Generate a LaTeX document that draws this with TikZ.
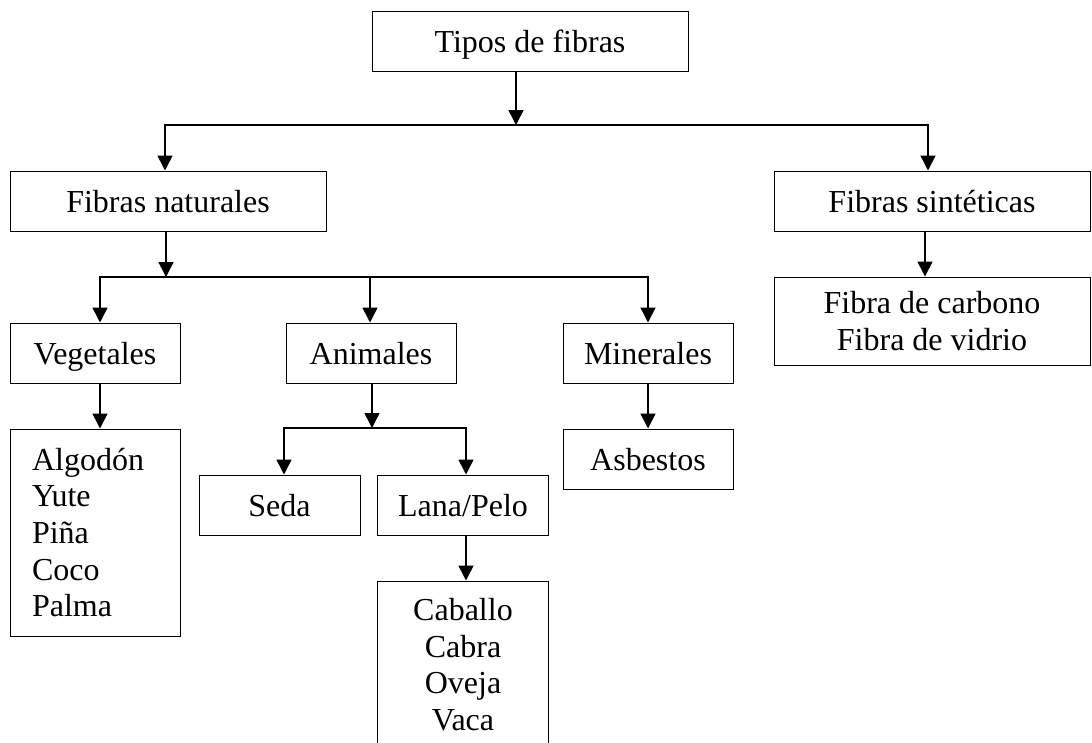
\documentclass[tikz,border=0pt]{standalone}
\usepackage{fontspec}
\setmainfont{Liberation Serif}
\usetikzlibrary{arrows.meta}
\begin{document}
\begin{tikzpicture}[x=1pt,y=-1pt,
  txt/.style={font=\fontsize{32}{36.7}\selectfont},
  box/.style={txt, draw, line width=1pt, inner sep=0pt, align=center,
    text height=22pt, text depth=0pt, minimum height=60pt},
  listbox/.style={txt, draw, line width=1pt, inner ysep=0pt},
  conn/.style={line width=1.6pt, -{Triangle[length=15pt,width=15pt]}},
  bar/.style={line width=1.6pt}]
\useasboundingbox (0,0) rectangle (1092,742);
\clip (0,0) rectangle (1092,742);

% boxes
\node[box, minimum width=316pt] (tipos) at (530,41) {Tipos de fibras};
\node[box, minimum width=316pt] (nat) at (168,201) {Fibras naturales};
\node[box, minimum width=316pt] (sint) at (932,201) {Fibras sintéticas};
\node[box, minimum width=170pt] (veg) at (95,353) {Vegetales};
\node[box, minimum width=170pt] (ani) at (371,353) {Animales};
\node[box, minimum width=170pt] (mine) at (648,353) {Minerales};
\node[box, minimum width=161pt] (seda) at (279.5,505) {Seda};
\node[box, minimum width=171pt] (lana) at (463,505) {Lana/Pelo};
\node[box, minimum width=170pt] (asb) at (648,459) {Asbestos};
\node[listbox, align=left, inner xsep=22pt, text width=126pt,
  minimum height=207pt] (vlist) at (95,532.5)
  {Algodón\\Yute\\Piña\\Coco\\Palma};
\node[listbox, align=center, inner xsep=0pt, minimum width=316pt,
  minimum height=88pt] (slist) at (932,321)
  {Fibra de carbono\\Fibra de vidrio};
\node[listbox, align=center, inner xsep=0pt, minimum width=171pt,
  minimum height=167pt] (clist) at (463,664.5)
  {Caballo\\Cabra\\Oveja\\Vaca};

% junction points of the branching bars
\coordinate (j1) at (516,125);
\coordinate (j1a) at (165,125);
\coordinate (j1b) at (928,125);
\coordinate (j2) at (166,277);
\coordinate (j2a) at (100,277);
\coordinate (j2b) at (370,277);
\coordinate (j2c) at (648,277);
\coordinate (j3) at (372,428);
\coordinate (j3a) at (284,428);
\coordinate (j3b) at (466,428);

% level 1
\draw[conn] (tipos.south -| j1) -- (j1);
\draw[conn] (j1) -| (nat.north -| j1a);
\draw[conn] (j1) -| (sint.north -| j1b);
\draw[conn] (sint.south -| 925,0) -- (slist.north -| 925,0);

% level 2
\draw[conn] (nat.south -| j2) -- (j2);
\draw[conn] (j2) -| (veg.north -| j2a);
\draw[conn] (j2b) -- (ani.north -| j2b);
\draw[conn] (j2) -| (mine.north -| j2c);

% level 3
\draw[conn] (veg.south -| j2a) -- (vlist.north -| j2a);
\draw[conn] (ani.south -| j3) -- (j3);
\draw[conn] (j3) -| (seda.north -| j3a);
\draw[conn] (j3) -| (lana.north -| j3b);
\draw[conn] (mine.south -| j2c) -- (asb.north -| j2c);
\draw[conn] (lana.south -| j3b) -- (clist.north -| j3b);
\end{tikzpicture}
\end{document}
